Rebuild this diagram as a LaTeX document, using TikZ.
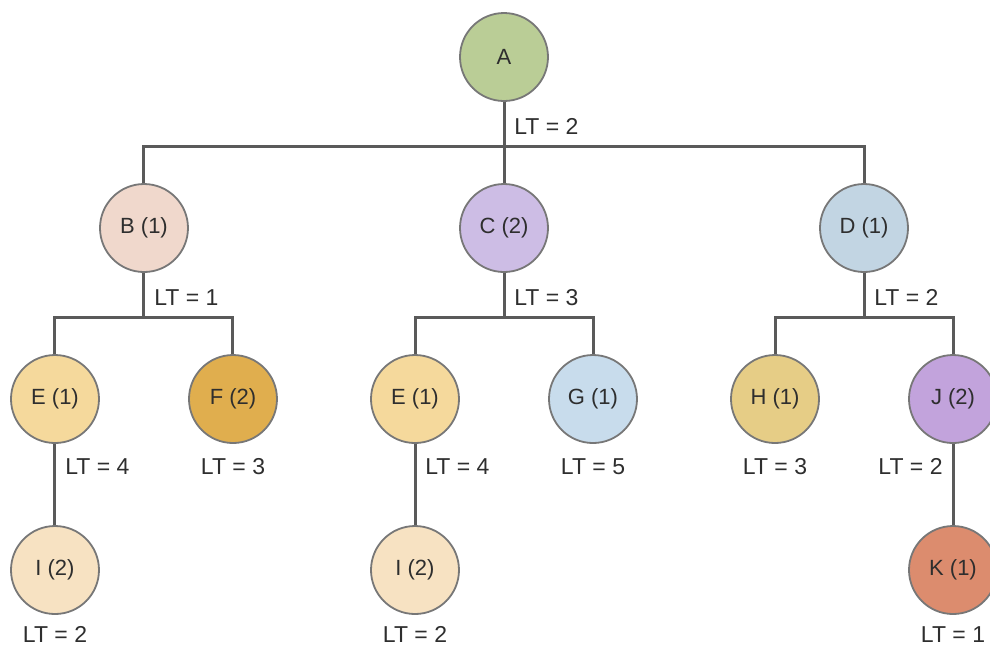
\documentclass[tikz,border=0pt]{standalone}
\usepackage{fontspec}
\setmainfont{Liberation Sans}
\usetikzlibrary{positioning}
\definecolor{linegray}{HTML}{5A5A5A}
\definecolor{rimgray}{HTML}{777777}
\definecolor{textgray}{HTML}{2E2E2E}
\definecolor{fillA}{HTML}{BACD96}
\definecolor{fillB}{HTML}{F0D8CC}
\definecolor{fillC}{HTML}{CDBDE5}
\definecolor{fillD}{HTML}{C2D5E3}
\definecolor{fillE}{HTML}{F5D99C}
\definecolor{fillF}{HTML}{E0AE4E}
\definecolor{fillG}{HTML}{C8DCEC}
\definecolor{fillH}{HTML}{E6CD86}
\definecolor{fillI}{HTML}{F7E2C2}
\definecolor{fillJ}{HTML}{C2A3DC}
\definecolor{fillK}{HTML}{DC8C6E}

\begin{document}
\begin{tikzpicture}[
  level distance=85.5pt,
  level 1/.style={sibling distance=180pt},
  level 2/.style={sibling distance=89pt},
  vertex/.style={circle, draw=rimgray, line width=0.9pt, fill=#1, minimum size=44pt,
    inner sep=0pt, text=textgray, font=\fontsize{11}{13}\selectfont},
  lt/.style={inner sep=0pt, text=textgray, font=\fontsize{11.5}{13}\selectfont},
  edge from parent/.style={draw, line width=1.5pt, linegray},
  edge from parent path={(\tikzparentnode.south) |- ([yshift=18.5pt]\tikzchildnode.north) -- (\tikzchildnode.north)},
]
\useasboundingbox (-252pt,28.5pt) rectangle (243pt,-294pt);
% Tree of nodes
\node[vertex=fillA] (A) {A}
  child {node[vertex=fillB] (B) {B (1)}
    child {node[vertex=fillE] (E1) {E (1)}
      child {node[vertex=fillI] (I1) {I (2)}}
    }
    child {node[vertex=fillF] (F) {F (2)}}
  }
  child {node[vertex=fillC] (C) {C (2)}
    child {node[vertex=fillE] (E2) {E (1)}
      child {node[vertex=fillI] (I2) {I (2)}}
    }
    child {node[vertex=fillG] (G) {G (1)}}
  }
  child {node[vertex=fillD] (D) {D (1)}
    child {node[vertex=fillH] (H) {H (1)}}
    child {node[vertex=fillJ] (J) {J (2)}
      child {node[vertex=fillK] (K) {K (1)}}
    }
  };
% LT labels
\node[lt, below right=8pt and 5pt of A.south] (ltA) {LT = 2};
\node[lt, below right=8pt and 5pt of B.south] (ltB) {LT = 1};
\node[lt, below right=8pt and 5pt of C.south] (ltC) {LT = 3};
\node[lt, below right=8pt and 5pt of D.south] (ltD) {LT = 2};
\node[lt, below right=7pt and 5pt of E1.south] (ltE1) {LT = 4};
\node[lt, below=7pt of F] (ltF) {LT = 3};
\node[lt, below right=7pt and 5pt of E2.south] (ltE2) {LT = 4};
\node[lt, below=7pt of G] (ltG) {LT = 5};
\node[lt, below=7pt of H] (ltH) {LT = 3};
\node[lt, below left=7pt and 5pt of J.south] (ltJ) {LT = 2};
\node[lt, below=5.5pt of I1] (ltI1) {LT = 2};
\node[lt, below=5.5pt of I2] (ltI2) {LT = 2};
\node[lt, below=5.5pt of K] (ltK) {LT = 1};
\end{tikzpicture}
\end{document}
